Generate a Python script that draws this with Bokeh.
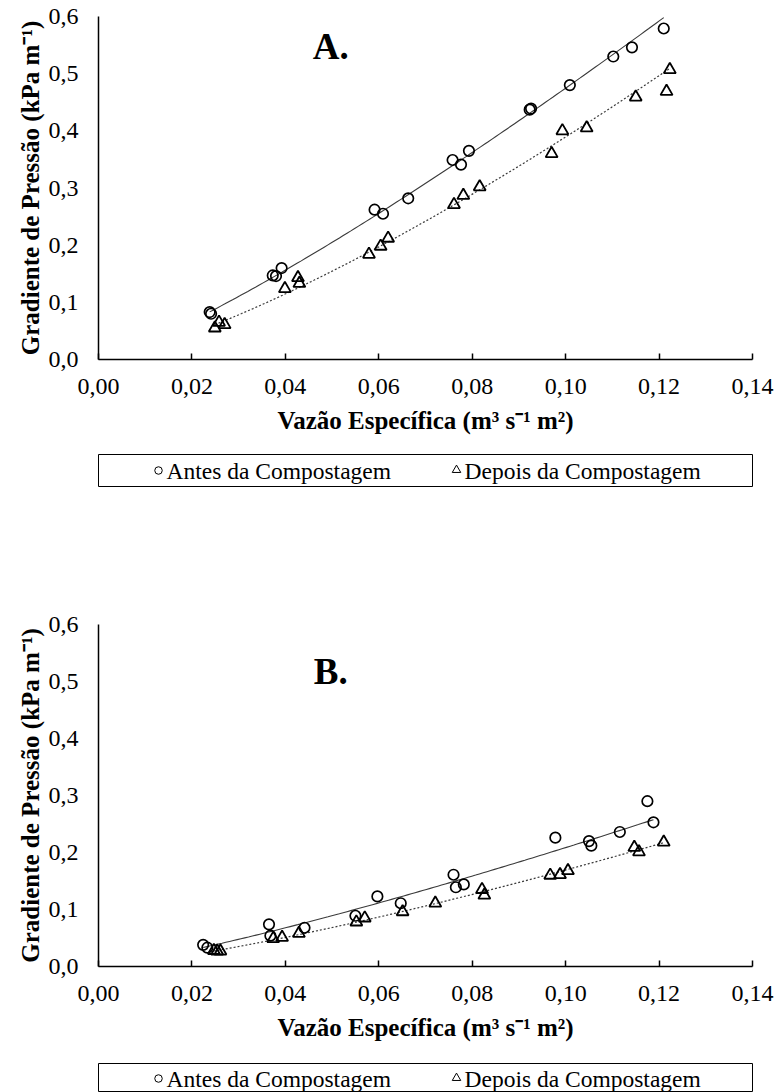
import numpy as np
from bokeh.plotting import figure
from bokeh.models import Range1d, FixedTicker, Label, Spacer
from bokeh.layouts import column, row
from bokeh.embed import file_html
from bokeh.resources import INLINE
from bokeh.core.properties import value

# ---------------- data ----------------
x_ticks = [0.0, 0.02, 0.04, 0.06, 0.08, 0.10, 0.12, 0.14]
x_tick_labels = ["0,00", "0,02", "0,04", "0,06", "0,08", "0,10", "0,12", "0,14"]
y_ticks = [0.0, 0.1, 0.2, 0.3, 0.4, 0.5, 0.6]
y_tick_labels = ["0,0", "0,1", "0,2", "0,3", "0,4", "0,5", "0,6"]

series_names = ["Antes da Compostagem", "Depois da Compostagem"]
panel_labels = ["A.", "B."]
x_title = "Vazão Específica (m³ s⁻¹ m²)"
y_title = "Gradiente de Pressão (kPa m⁻¹)"

# Panel A
xA_antes = [0.0238, 0.0241, 0.0373, 0.0380, 0.0392, 0.0591, 0.0609, 0.0663, 0.0758,
            0.0776, 0.0793, 0.0923, 0.0926, 0.1009, 0.1102, 0.1142, 0.1210]
yA_antes = [0.083, 0.080, 0.147, 0.146, 0.160, 0.262, 0.255, 0.282, 0.349,
            0.341, 0.365, 0.437, 0.439, 0.480, 0.530, 0.546, 0.579]
xA_depois = [0.0249, 0.0258, 0.0270, 0.0399, 0.0427, 0.0430, 0.0579, 0.0604, 0.0620,
             0.0761, 0.0781, 0.0816, 0.0970, 0.0993, 0.1045, 0.1150, 0.1216, 0.1223]
yA_depois = [0.055, 0.065, 0.061, 0.124, 0.143, 0.133, 0.184, 0.198, 0.212,
             0.271, 0.287, 0.302, 0.360, 0.400, 0.405, 0.459, 0.469, 0.507]

# Panel B
xB_antes = [0.0224, 0.0233, 0.0365, 0.0368, 0.0441, 0.0550, 0.0597, 0.0647, 0.0760,
            0.0765, 0.0782, 0.0978, 0.1050, 0.1055, 0.1116, 0.1175, 0.1188]
yB_antes = [0.038, 0.033, 0.074, 0.054, 0.068, 0.089, 0.123, 0.111, 0.161,
            0.139, 0.144, 0.226, 0.220, 0.212, 0.236, 0.290, 0.253]
xB_depois = [0.0247, 0.0254, 0.0261, 0.0374, 0.0393, 0.0429, 0.0552, 0.0570, 0.0651,
             0.0721, 0.0821, 0.0826, 0.0967, 0.0988, 0.1005, 0.1147, 0.1157, 0.1210]
yB_depois = [0.028, 0.027, 0.027, 0.049, 0.051, 0.058, 0.078, 0.085, 0.096,
             0.111, 0.135, 0.125, 0.160, 0.161, 0.168, 0.209, 0.201, 0.218]

FONT = "Liberation Serif"


def power_fit(xs, ys):
    """Power trend line (y = a x^b) fitted to the series, as in the original chart."""
    xs = np.asarray(xs); ys = np.asarray(ys)
    b, ln_a = np.polyfit(np.log(xs), np.log(ys), 1)
    gx = np.linspace(xs.min(), xs.max(), 120)
    return gx, np.exp(ln_a) * gx ** b


def make_chart(xa, ya, xd, yd, label_text, label_y, min_top, height):
    p = figure(width=774, height=height,
               x_range=Range1d(0, 0.14), y_range=Range1d(0, 0.6),
               output_backend="svg", toolbar_location=None,
               min_border_left=98, min_border_right=22,
               min_border_top=min_top, min_border_bottom=85)
    p.outline_line_color = None
    p.grid.visible = False
    p.background_fill_color = "white"
    p.border_fill_color = "white"

    # x axis
    xa_ax = p.xaxis[0]
    xa_ax.ticker = FixedTicker(ticks=x_ticks)
    xa_ax.major_label_overrides = dict(zip(x_ticks, x_tick_labels))
    xa_ax.major_tick_in = 6
    xa_ax.major_tick_out = 0
    xa_ax.minor_tick_in = 0
    xa_ax.minor_tick_out = 0
    xa_ax.axis_line_color = "black"
    xa_ax.axis_line_width = 1.5
    xa_ax.major_tick_line_color = "black"
    xa_ax.major_tick_line_width = 1.5
    xa_ax.major_label_text_font = FONT
    xa_ax.major_label_text_font_size = "24px"
    xa_ax.major_label_text_color = "black"
    xa_ax.major_label_standoff = 19
    xa_ax.axis_label = x_title
    xa_ax.axis_label_text_font = FONT
    xa_ax.axis_label_text_font_size = "25px"
    xa_ax.axis_label_text_font_style = "bold"
    xa_ax.axis_label_text_color = "black"
    xa_ax.axis_label_standoff = 10

    # y axis
    ya_ax = p.yaxis[0]
    ya_ax.ticker = FixedTicker(ticks=y_ticks)
    ya_ax.major_label_overrides = dict(zip(y_ticks, y_tick_labels))
    ya_ax.major_tick_in = 0
    ya_ax.major_tick_out = 0
    ya_ax.minor_tick_in = 0
    ya_ax.minor_tick_out = 0
    ya_ax.axis_line_color = "black"
    ya_ax.axis_line_width = 1.5
    ya_ax.major_label_text_font = FONT
    ya_ax.major_label_text_font_size = "24px"
    ya_ax.major_label_text_color = "black"
    ya_ax.major_label_standoff = 20
    ya_ax.axis_label = y_title
    ya_ax.axis_label_text_font = FONT
    ya_ax.axis_label_text_font_size = "25px"
    ya_ax.axis_label_text_font_style = "bold"
    ya_ax.axis_label_text_color = "black"
    ya_ax.axis_label_standoff = 2

    # trend lines
    gx, gy = power_fit(xa, ya)
    p.line(gx, gy, line_color="#3a3a3a", line_width=1.1)
    gx, gy = power_fit(xd, yd)
    p.line(gx, gy, line_color="#3a3a3a", line_width=1.2, line_dash="2 2")

    # markers
    p.scatter(xa, ya, marker="circle", size=10.5, fill_color=None,
              line_color="black", line_width=1.7)
    p.scatter(xd, yd, marker="triangle", size=12, fill_color=None,
              line_color="black", line_width=1.8)

    p.add_layout(Label(x=0.0497, y=label_y, text=label_text,
                       text_font=FONT, text_font_size="37px", text_font_style="bold",
                       text_align="center", text_baseline="middle", text_color="black"))
    return p


def make_legend(height, min_bottom, mid_from_top):
    frame_h = height - 1 - min_bottom
    lg = figure(width=656, height=height,
                x_range=Range1d(0, 654), y_range=Range1d(0, frame_h),
                output_backend="svg", toolbar_location=None,
                x_axis_location=None, y_axis_location=None,
                min_border_left=1, min_border_right=1,
                min_border_top=1, min_border_bottom=min_bottom)
    lg.grid.visible = False
    lg.outline_line_color = "black"
    lg.outline_line_width = 1
    lg.background_fill_color = "white"
    lg.border_fill_color = "white"
    ym = frame_h - mid_from_top
    lg.scatter([60], [ym], marker="circle", size=7.5, fill_color=None,
               line_color="black", line_width=1)
    lg.scatter([358], [ym + 0.5], marker="triangle", size=8.5, fill_color=None,
               line_color="black", line_width=1)
    lg.text([68, 366], [ym, ym], text=series_names,
            text_font=value(FONT), text_font_size=value("23.5px"),
            text_baseline="middle", text_align="left", text_color="black")
    return lg


figA = make_chart(xA_antes, yA_antes, xA_depois, yA_depois, panel_labels[0], 0.547, 16, 444)
legA = make_legend(34, 1, 16)
figB = make_chart(xB_antes, yB_antes, xB_depois, yB_depois, panel_labels[1], 0.5175, 40, 467)
legB = make_legend(30, 0, 15)

layout = column(
    figA,
    Spacer(width=774, height=9),
    row(Spacer(width=97, height=34), legA),
    Spacer(width=774, height=97),
    figB,
    Spacer(width=774, height=11),
    row(Spacer(width=97, height=30), legB),
)

open("out.html", "w").write(file_html(layout, INLINE))
